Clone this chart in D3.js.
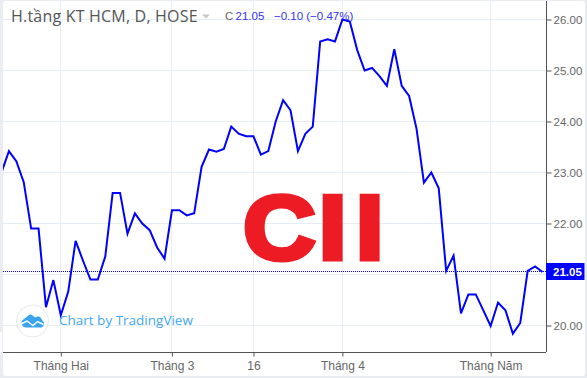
<!DOCTYPE html>
<html>
<head>
<meta charset="utf-8">
<script src="https://cdnjs.cloudflare.com/ajax/libs/d3/7.8.5/d3.min.js"></script>
<style>
html, body { margin: 0; padding: 0; background: #e9edf1; }
svg { display: block; font-family: Arial, "Liberation Sans", sans-serif; }
</style>
</head>
<body>
<div class="canvas"></div>
<script>
// closing prices, one per trading day
const closes = [
    23.0, 23.42, 23.22, 22.81, 21.9, 21.9, 20.36, 20.89, 20.2, 20.66,
    21.66, 21.27, 20.9, 20.9, 21.35, 22.6, 22.6, 21.8, 22.2, 22.0,
    21.87, 21.53, 21.31, 22.26, 22.26, 22.16, 22.2, 23.11, 23.45, 23.41,
    23.46, 23.9, 23.76, 23.71, 23.71, 23.35, 23.42, 24.0, 24.42, 24.22,
    23.42, 23.76, 23.9, 25.57, 25.61, 25.57, 26.0, 25.96, 25.4, 25.0,
    25.05, 24.89, 24.7, 25.42, 24.7, 24.5, 23.86, 22.8, 23.0, 22.69,
    21.07, 21.37, 20.24, 20.61, 20.61, 20.3, 19.99, 20.45, 20.3, 19.84,
    20.05, 21.07, 21.16, 21.05
]

const lastPrice = 21.05

// x axis labels sit on these trading days
const monthTicks = [8, 23, 34, 46, 66]
const monthLabels = ['Tháng Hai', 'Tháng 3', '16', 'Tháng 4', 'Tháng Năm']

const priceTicks = [20, 21, 22, 23, 24, 25, 26]
const priceLabels = ['20.00', '', '22.00', '23.00', '24.00', '25.00', '26.00']

// dimensions
const dims = { width: 587, height: 378 }
const panel = { left: 3, top: 1, right: 585, bottom: 376 }
const plot = { right: 546, bottom: 352 }

const svg = d3.select('.canvas')
    .append('svg')
    .attr('width', dims.width)
    .attr('height', dims.height)

svg.append('rect')
    .attr('x', panel.left)
    .attr('y', panel.top)
    .attr('width', panel.right - panel.left)
    .attr('height', panel.bottom - panel.top)
    .attr('rx', 3)
    .attr('fill', '#fff')

// little white tab on the left edge of the screenshot
svg.append('rect')
    .attr('x', 0)
    .attr('y', 332)
    .attr('width', 2)
    .attr('height', 20)
    .attr('fill', '#fbfcfd')

// Scales
const x = d3.scaleLinear().domain([0, closes.length - 1]).range([1.5, 542.5])
const y = d3.scaleLinear().domain([20, 26]).range([325.5, 19.5])

// Grid
const grid = svg.append('g').attr('stroke', '#e6edf3').attr('stroke-width', 1)

grid.selectAll('.h')
    .data(priceTicks)
    .enter().append('line')
    .attr('x1', panel.left)
    .attr('x2', plot.right)
    .attr('y1', d => Math.round(y(d) - 0.5) + 0.5)
    .attr('y2', d => Math.round(y(d) - 0.5) + 0.5)

grid.selectAll('.v')
    .data(monthTicks)
    .enter().append('line')
    .attr('x1', d => Math.round(x(d) - 0.5) + 0.5)
    .attr('x2', d => Math.round(x(d) - 0.5) + 0.5)
    .attr('y1', panel.top)
    .attr('y2', plot.bottom)

// Watermark
svg.append('text')
    .attr('transform', 'translate(245, 258.5) scale(1.1, 1)')
    .attr('x', '-1.7 67.1 100.8')
    .attr('y', 0)
    .attr('font-size', 91)
    .attr('font-weight', 700)
    .attr('fill', '#ed1c24')
    .attr('stroke', '#ed1c24')
    .attr('stroke-width', 5)
    .attr('stroke-linejoin', 'miter')
    .text('CII')

// Last price dotted line
svg.append('line')
    .attr('x1', panel.left)
    .attr('x2', plot.right)
    .attr('y1', Math.floor(y(lastPrice)) + 0.5)
    .attr('y2', Math.floor(y(lastPrice)) + 0.5)
    .attr('stroke', '#0000ff')
    .attr('stroke-width', 1)
    .attr('stroke-dasharray', '1 1')

// Price line
const line = d3.line()
    .x((d, i) => x(i))
    .y(d => y(d))

svg.append('clipPath')
    .attr('id', 'plot-clip')
    .append('rect')
    .attr('x', panel.left)
    .attr('y', panel.top)
    .attr('width', plot.right - panel.left)
    .attr('height', plot.bottom - panel.top)

svg.append('path')
    .datum(closes)
    .attr('clip-path', 'url(#plot-clip)')
    .attr('fill', 'none')
    .attr('stroke', '#0000ff')
    .attr('stroke-width', 2)
    .attr('d', line)

// Axes
const xAxis = d3.axisBottom(x)
    .tickValues(monthTicks)
    .tickFormat((d, i) => monthLabels[i])
    .tickSize(4)
    .tickPadding(5)

const xAxisG = svg.append('g')
    .attr('transform', `translate(0, ${plot.bottom + 0.5})`)
    .call(xAxis)

xAxisG.select('.domain').remove()
xAxisG.append('line')
    .attr('x1', panel.left)
    .attr('x2', plot.right)
    .attr('stroke', '#555')

const yAxis = d3.axisRight(y)
    .tickValues(priceTicks)
    .tickFormat((d, i) => priceLabels[i])
    .tickSize(5)
    .tickPadding(2)

const yAxisG = svg.append('g')
    .attr('transform', `translate(${plot.right + 0.5}, 0)`)
    .call(yAxis)

yAxisG.select('.domain').remove()
yAxisG.append('line')
    .attr('y1', panel.top)
    .attr('y2', plot.bottom)
    .attr('stroke', '#555')

svg.selectAll('.tick text')
    .attr('font-family', 'Arial, "Liberation Sans", sans-serif')
    .attr('fill', '#666')
xAxisG.selectAll('.tick text').attr('font-size', 12)
yAxisG.selectAll('.tick text').attr('font-size', 11.5)
svg.selectAll('.tick line').attr('stroke', '#555')

// Last price label
const lastY = y(lastPrice)
svg.append('rect')
    .attr('x', plot.right)
    .attr('y', 263)
    .attr('width', 38.5)
    .attr('height', 17)
    .attr('fill', '#0000ff')

svg.append('text')
    .attr('x', plot.right + 7)
    .attr('y', lastY + 4)
    .attr('font-size', 11.5)
    .attr('font-weight', 700)
    .attr('fill', '#fff')
    .text(d3.format('.2f')(lastPrice))

// Header
svg.append('text')
    .attr('x', 11)
    .attr('y', 22)
    .attr('font-size', 16)
    .attr('letter-spacing', 0.2)
    .attr('font-family', '"Open Sans", sans-serif')
    .attr('fill', '#555')
    .text('H.tầng KT HCM, D, HOSE')

svg.append('path')
    .attr('d', 'M202,14.5h8l-4,4z')
    .attr('fill', '#c8c8c8')

svg.append('text')
    .attr('x', 225)
    .attr('y', 20)
    .attr('font-size', 11.5)
    .attr('fill', '#666')
    .text('C')

svg.append('text')
    .attr('x', 235.5)
    .attr('y', 20)
    .attr('font-size', 11.5)
    .attr('fill', '#3333ff')
    .text('21.05')

svg.append('text')
    .attr('x', 274)
    .attr('y', 20)
    .attr('font-size', 11.5)
    .attr('fill', '#3333ff')
    .text('−0.10 (−0.47%)')

// TradingView badge
svg.append('circle')
    .attr('cx', 32.5)
    .attr('cy', 321)
    .attr('r', 16)
    .attr('fill', '#fff')
    .attr('stroke', '#e6e9ec')

svg.append('path')
    .attr('d', 'M26,327.5a4.5,4.5 0 0 1 -2,-8.5l5,-4q1.5,-1 3,0l3,2.5 2.5,-1q2,-0.5 3,1l2,3a4,4 0 0 1 -1,7z')
    .attr('fill', '#39a3ee')

svg.append('path')
    .attr('d', 'M21,324l6,-3 6,4.5 4.5,-4 6,3')
    .attr('fill', 'none')
    .attr('stroke', '#fff')
    .attr('stroke-width', 1.4)

svg.append('text')
    .attr('x', 59)
    .attr('y', 324.5)
    .attr('font-size', 13.5)
    .attr('font-family', '"Open Sans", sans-serif')
    .attr('fill', '#45a8f0')
    .text('Chart by TradingView')
</script>
</body>
</html>
